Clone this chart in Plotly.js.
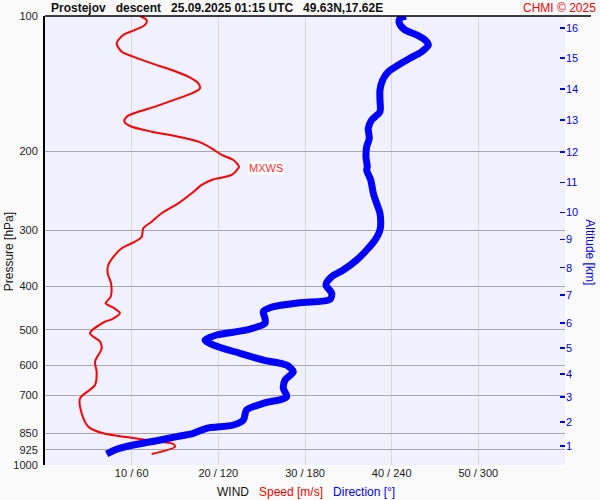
<!DOCTYPE html>
<html>
<head>
<meta charset="utf-8">
<script src="https://cdn.plot.ly/plotly-3.0.1.min.js"></script>
<style>html,body{margin:0;padding:0;background:#fafafa;}#chart{width:600px;height:500px;}</style>
</head>
<body>
<div id="chart"></div>
<script>
// Wind speed profile [m/s] vs pressure [hPa]
const speedPressure = [100, 102.1, 104.7, 107.8, 110.2, 115.0, 120.1, 123.2, 127.5, 131.9, 136.5, 141.2, 144.9, 148.7, 153.9, 159.2, 163.4, 167.6, 171.9, 175.8, 181.0, 185.7, 190.5, 197.1, 203.9, 209.2, 216.5, 218.3, 226.0, 231.8, 237.8, 248.2, 261.3, 275.0, 287.1, 297.0, 310.1, 318.1, 329.1, 340.6, 358.5, 374.1, 393.8, 421.9, 436.4, 446.3, 459.3, 473.7, 479.5, 508.9, 531.3, 549.6, 588.9, 619.8, 663.5, 710.4, 767.0, 821.6, 850.1, 867.7, 882.9, 898.0, 910.5, 945.1];
const windSpeed = [10.96, 11.73, 11.54, 10.19, 9.03, 8.27, 8.85, 10.19, 12.31, 14.62, 16.53, 17.69, 17.88, 16.93, 14.80, 12.69, 10.77, 9.43, 9.15, 9.81, 12.31, 15.38, 17.69, 19.23, 20.39, 21.73, 22.38, 22.30, 21.54, 19.23, 18.08, 16.93, 15.38, 13.46, 12.31, 11.34, 11.16, 10.38, 8.85, 8.08, 7.30, 7.23, 7.62, 7.58, 7.00, 7.88, 8.65, 7.70, 6.92, 5.19, 6.35, 6.54, 5.77, 5.96, 5.77, 4.04, 4.23, 5.00, 6.73, 9.61, 12.31, 14.80, 15.00, 12.31];

// Wind direction profile [deg] vs pressure [hPa]
const dirPressure = [100, 101.2, 103.8, 107.4, 110.2, 113.1, 116.0, 120.1, 124.2, 128.6, 133.1, 138.8, 146.2, 153.9, 163.4, 170.4, 177.9, 187.2, 195.5, 205.8, 216.5, 220.3, 231.8, 248.2, 261.3, 275.0, 299.6, 315.4, 332.0, 349.5, 367.9, 380.7, 397.2, 414.6, 427.6, 435.1, 444.0, 455.5, 471.3, 483.5, 500.4, 513.4, 526.7, 540.4, 564.0, 583.8, 599.1, 619.8, 646.7, 674.8, 704.6, 728.9, 754.1, 794.0, 814.6, 828.6, 850.1, 864.8, 882.9, 902.7, 922.8, 945.1];
const windDir = [249.9, 245.8, 245.3, 249.2, 257.3, 263.1, 265.4, 260.8, 252.7, 244.6, 237.7, 233.8, 231.9, 231.9, 231.9, 226.2, 223.8, 224.5, 222.7, 222.2, 223.1, 222.7, 225.5, 227.3, 229.6, 231.9, 231.9, 228.5, 222.7, 215.8, 206.5, 198.5, 194.5, 198.5, 197.3, 176.5, 158.1, 151.1, 152.3, 152.3, 139.6, 118.9, 110.8, 116.5, 135.0, 151.1, 167.3, 171.9, 166.2, 165.0, 167.3, 151.1, 139.6, 137.3, 130.4, 111.9, 102.7, 91.2, 77.3, 61.1, 49.6, 42.7];

// Axis ticks
const pressureTicks = [100, 200, 300, 400, 500, 600, 700, 850, 925, 1000];
const speedTicks = [10, 20, 30, 40, 50, 60];
const dirTicks = [60, 120, 180, 240, 300, 360];
const altitudeKm = [16, 15, 14, 13, 12, 11, 10, 9, 8, 7, 6, 5, 4, 3, 2, 1];
const altitudePressure = [106.3, 124.0, 145.4, 170.4, 200.9, 234.7, 273.6, 314.3, 363.6, 418.2, 482.8, 548.8, 627.2, 705.7, 802.2, 907.3];

// Max wind speed level
const mxwsPressure = 218.3;
const mxwsSpeed = 22.38;

const FONT = 'Liberation Sans, Arial, sans-serif';
const lp = Math.log10(mxwsPressure);

const traces = [
  {x: windDir, y: dirPressure, xaxis: 'x2', yaxis: 'y', type: 'scatter', mode: 'lines',
   line: {color: '#0000ff', width: 7, shape: 'spline', smoothing: 0.8}, hoverinfo: 'skip'},
  {x: windSpeed, y: speedPressure, xaxis: 'x', yaxis: 'y', type: 'scatter', mode: 'lines',
   line: {color: '#ff0000', width: 2, shape: 'spline', smoothing: 0.8}, hoverinfo: 'skip'},
  {x: [], y: [], xaxis: 'x', yaxis: 'y2', type: 'scatter', showlegend: false}
];

const layout = {
  width: 600, height: 500,
  paper_bgcolor: '#fafafa', plot_bgcolor: '#f0f0ff',
  margin: {l: 45, r: 35, t: 16, b: 35},
  showlegend: false,
  font: {family: FONT, size: 11, color: '#222'},
  xaxis: {range: [0, 60], tickvals: speedTicks,
    ticktext: speedTicks.map((s, i) => i < 5 ? s + ' / ' + dirTicks[i] : ''),
    showgrid: true, gridcolor: '#d8d8d8', gridwidth: 1, zeroline: false, showline: false,
    ticks: '', tickfont: {size: 11, color: '#222'}, fixedrange: true},
  xaxis2: {range: [0, 360], overlaying: 'x', side: 'top', visible: false, fixedrange: true},
  yaxis: {type: 'log', range: [3, 2], tickvals: pressureTicks, ticktext: pressureTicks.map(String),
    showgrid: true, gridcolor: '#a8a8a8', gridwidth: 1, zeroline: false,
    showline: true, linecolor: '#000', linewidth: 2, ticks: '', ticklabelstandoff: 3,
    tickfont: {size: 11, color: '#222'}, fixedrange: true},
  yaxis2: {type: 'log', range: [3, 2], overlaying: 'y', side: 'right',
    tickvals: altitudePressure, ticktext: altitudeKm.map(String),
    showgrid: false, zeroline: false, showline: false,
    ticks: 'inside', ticklen: 5, tickwidth: 1.5, tickcolor: '#0000ff',
    tickfont: {size: 11, color: '#0000ff'}, fixedrange: true},
  shapes: [
    {type: 'line', xref: 'paper', yref: 'paper', x0: 0, x1: 1.05, y0: 1, y1: 1,
     line: {color: '#000', width: 1.5}},
    {type: 'line', xref: 'paper', yref: 'y', x0: -0.004, x1: 0.021, y0: lp, y1: lp,
     line: {color: '#ff0000', width: 1.5}},
    {type: 'line', xref: 'paper', yref: 'y', x0: 0.981, x1: 1.006, y0: lp, y1: lp,
     line: {color: '#ff0000', width: 1.5}},
    {type: 'line', xref: 'x', yref: 'y', x0: mxwsSpeed, x1: mxwsSpeed + 0.9, y0: lp, y1: lp,
     line: {color: '#ff0000', width: 1.5}}
  ],
  annotations: [
    {xref: 'paper', yref: 'paper', x: 0.008, y: 1.018, xanchor: 'left', yanchor: 'middle', showarrow: false,
     text: '<b>Prostejov\u00a0\u00a0 descent\u00a0\u00a0 25.09.2025 01:15 UTC\u00a0\u00a0 49.63N,17.62E</b>',
     font: {family: FONT, size: 12, color: '#111'}},
    {xref: 'paper', yref: 'paper', x: 1.0635, y: 1.018, xanchor: 'right', yanchor: 'middle', showarrow: false,
     text: 'CHMI © 2025', font: {family: FONT, size: 12, color: '#ff0000'}},
    {xref: 'x', yref: 'y', x: mxwsSpeed + 1.0, y: lp, xanchor: 'left', yanchor: 'middle', showarrow: false,
     text: 'MXWS', bgcolor: '#ffffff', borderpad: 0, font: {family: FONT, size: 11, color: '#ff3030'}},
    {xref: 'paper', yref: 'paper', x: -0.069, y: 0.474, textangle: -90, showarrow: false,
     xanchor: 'center', yanchor: 'middle',
     text: 'Pressure [hPa]', font: {family: FONT, size: 12, color: '#111'}},
    {xref: 'paper', yref: 'paper', x: 1.048, y: 0.474, textangle: 90, showarrow: false,
     xanchor: 'center', yanchor: 'middle',
     text: 'Altitude [km]', font: {family: FONT, size: 12, color: '#0000ff'}},
    {xref: 'paper', yref: 'paper', x: 0.502, y: -0.060, xanchor: 'center', yanchor: 'middle', showarrow: false,
     text: 'WIND\u00a0\u00a0 <span style="color:#ff0000">Speed [m/s]</span>\u00a0\u00a0 <span style="color:#0000ff">Direction [°]</span>',
     font: {family: FONT, size: 12, color: '#111'}}
  ]
};

Plotly.newPlot('chart', traces, layout, {staticPlot: true, displayModeBar: false});
</script>
</body>
</html>
